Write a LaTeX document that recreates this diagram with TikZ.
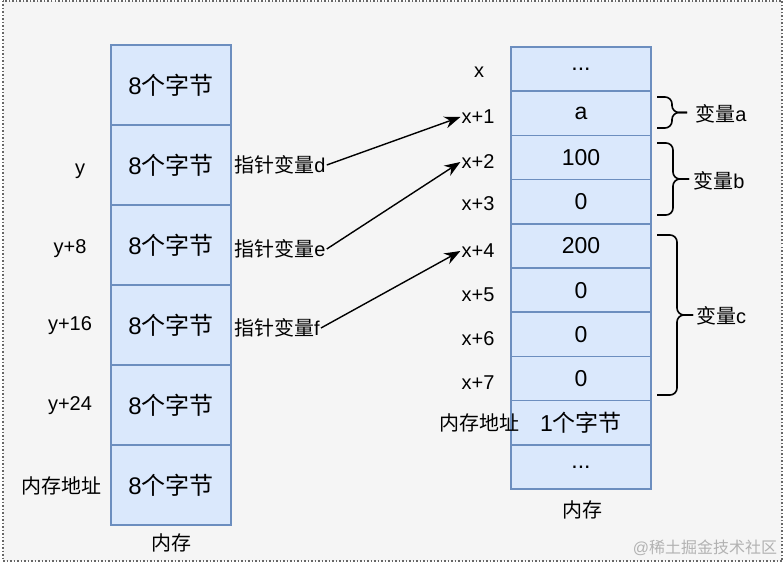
\documentclass[tikz,border=0pt]{standalone}
\usepackage{fontspec}
\setmainfont{Liberation Sans}
\newfontfamily\cjk{Noto Sans CJK SC}
\usetikzlibrary{
    arrows.meta,
    positioning
}
\definecolor{cellfill}{HTML}{DAE8FC}
\definecolor{celldraw}{HTML}{6C8EBF}
\definecolor{bggrey}{HTML}{F5F5F5}
\tikzset{
    bigcell/.style={draw=celldraw, fill=cellfill, line width=1.5pt, outer sep=0pt, inner sep=0pt,
        minimum width=120pt, minimum height=80pt, font=\fontsize{24}{28}\selectfont},
    smallcell/.style={bigcell, minimum width=140pt, minimum height=44.2pt, font=\fontsize{23}{27}\selectfont},
    lbl/.style={inner sep=1pt, font=\fontsize{20}{24}\selectfont},
    ptr/.style={-{Stealth[length=16pt, width=12pt]}, line width=1.4pt},
    brace/.style={line width=1.6pt, rounded corners=7pt}
}

\begin{document}
\begin{tikzpicture}[x=1pt, y=-1pt]
    \useasboundingbox (0,0) rectangle (784,564);
    \draw[fill=bggrey, draw=black!60, line width=1.5pt, dotted] (3,1) rectangle (782,561);

    % left memory, 8 bytes per cell
    \node[bigcell] (m1) at (171,85) {8{\cjk 个字节}};
    \node[bigcell, below=0pt of m1] (m2) {8{\cjk 个字节}};
    \node[bigcell, below=0pt of m2] (m3) {8{\cjk 个字节}};
    \node[bigcell, below=0pt of m3] (m4) {8{\cjk 个字节}};
    \node[bigcell, below=0pt of m4] (m5) {8{\cjk 个字节}};
    \node[bigcell, below=0pt of m5] (m6) {8{\cjk 个字节}};
    \node[lbl] (mem1) at (171,543) {\cjk 内存};

    \node[lbl] (y0) at (80,171) {y};
    \node[lbl] (y8) at (70,249) {y+8};
    \node[lbl] (y16) at (70,326) {y+16};
    \node[lbl] (y24) at (70,406) {y+24};
    \node[lbl] (addr1) at (61,486) {\cjk 内存地址};

    \node[lbl] (pd) at (280,165) {{\cjk 指针变量}d};
    \node[lbl] (pe) at (280,249) {{\cjk 指针变量}e};
    \node[lbl] (pf) at (277,328) {{\cjk 指针变量}f};

    % right memory, 1 byte per cell
    \node[smallcell] (n1) at (581,69.1) {...};
    \node[smallcell, below=0pt of n1] (n2) {a};
    \node[smallcell, below=0pt of n2] (n3) {100};
    \node[smallcell, below=0pt of n3] (n4) {0};
    \node[smallcell, below=0pt of n4] (n5) {200};
    \node[smallcell, below=0pt of n5] (n6) {0};
    \node[smallcell, below=0pt of n6] (n7) {0};
    \node[smallcell, below=0pt of n7] (n8) {0};
    \node[smallcell, below=0pt of n8] (n9) {1{\cjk 个字节}};
    \node[smallcell, below=0pt of n9] (n10) {...};
    \node[lbl] (mem2) at (582,510) {\cjk 内存};

    \node[lbl] (x0) at (479,72) {x};
    \node[lbl] (x1) at (478,117) {x+1};
    \node[lbl] (x2) at (478,162) {x+2};
    \node[lbl] (x3) at (478,204) {x+3};
    \node[lbl] (x4) at (478,251) {x+4};
    \node[lbl] (x5) at (478,295) {x+5};
    \node[lbl] (x6) at (478,339) {x+6};
    \node[lbl] (x7) at (478,383) {x+7};
    \node[lbl] (addr2) at (479,423) {\cjk 内存地址};

    \draw[ptr] (pd.east) -- (x1.west);
    \draw[ptr] (pe.east) -- (x2.west);
    \draw[ptr] (pf.east) -- (x4.west);

    % braces
    \draw[brace] (657,97) -| (672,112.5) -- (687,112.5);
    \draw[brace] (657,128) -| (672,112.5) -- (687,112.5);
    \draw[brace] (657,143) -| (673,179) -- (689,179);
    \draw[brace] (657,215) -| (673,179) -- (689,179);
    \draw[brace] (657,235) -| (677,315) -- (693,315);
    \draw[brace] (657,395) -| (677,315) -- (693,315);
    \node[lbl] (va) at (721,114) {{\cjk 变量}a};
    \node[lbl] (vb) at (719,181) {{\cjk 变量}b};
    \node[lbl] (vc) at (721,316) {{\cjk 变量}c};

    \node[font=\fontsize{16}{18}\selectfont, text=black!30] (mark) at (705,548) {@{\cjk 稀土掘金技术社区}};
\end{tikzpicture}
\end{document}
